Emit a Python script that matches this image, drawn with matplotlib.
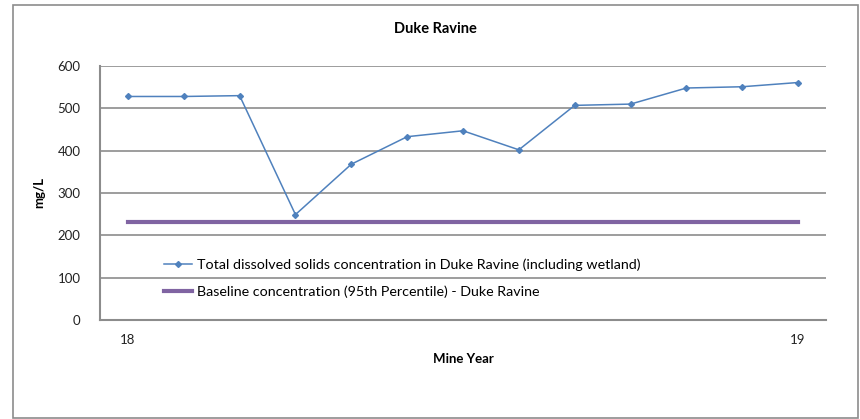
import matplotlib.pyplot as plt
from matplotlib.patches import Rectangle

plt.rcParams['font.family'] = ['Lato', 'DejaVu Sans']

# data
years = ['18', '', '', '', '', '', '', '', '', '', '', '', '19']
tds = [528, 528, 530, 249, 368, 433, 447, 402, 507, 510, 548, 551, 561]
baseline = [231] * len(years)

x = list(range(len(years)))

fig = plt.figure(figsize=(8.6, 4.19), dpi=100)
ax = fig.add_axes([100 / 860, 1 - 320 / 419, 726 / 860, 254 / 419])

ax.plot(x, tds, color='#4F81BD', lw=1.1, marker='D', ms=3,
        label='Total dissolved solids concentration in Duke Ravine (including wetland)')
ax.plot(x, baseline, color='#8064A2', lw=3,
        label='Baseline concentration (95th Percentile) - Duke Ravine')

ax.set_xlim(-0.5, len(years) - 0.5)
ax.set_ylim(0, 600)
ax.set_yticks(range(0, 601, 100))
ax.set_xticks(x)
ax.set_xticklabels(years)
ax.tick_params(axis='both', length=0, labelsize=9.5, colors='#222222')
ax.tick_params(axis='y', pad=14)
ax.tick_params(axis='x', pad=10)
ax.grid(axis='y', color='#8c8c8c', lw=1.2)
ax.set_axisbelow(True)
for s in ['top', 'right']:
    ax.spines[s].set_visible(False)
for s in ['left', 'bottom']:
    ax.spines[s].set_color('#8c8c8c')
    ax.spines[s].set_linewidth(1.5)

ax.set_xlabel('Mine Year', fontsize=9.5, fontweight='bold', labelpad=5)
ax.set_ylabel('mg/L', fontsize=9.5, fontweight='bold', labelpad=9)
fig.text(435 / 860, 1 - 29 / 419, 'Duke Ravine', ha='center', va='center',
         fontsize=10.5, fontweight='bold')

ax.legend(loc='center left', bbox_to_anchor=(0.07, 0.165), frameon=False,
          fontsize=10.3, handlelength=2.0, handletextpad=0.3, labelspacing=1.0)

fig.patches.append(Rectangle((13 / 860, 1 / 419), 845 / 860, 413 / 419,
                             transform=fig.transFigure, fill=False,
                             edgecolor='#8c8c8c', lw=1.2))

fig.savefig('out.png', dpi=100)
